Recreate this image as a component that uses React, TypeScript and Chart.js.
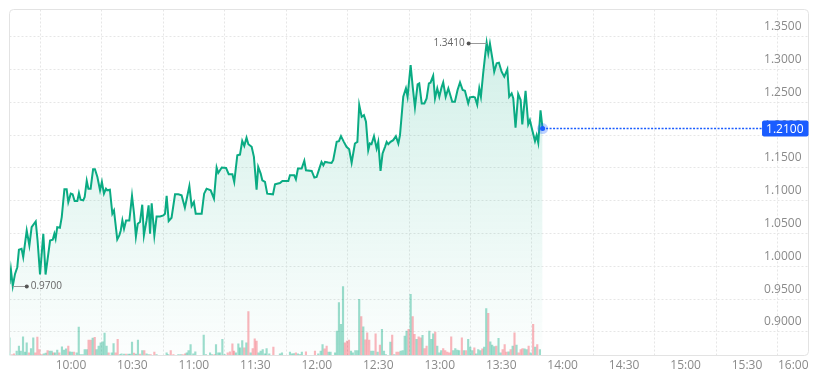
import React, { useEffect, useRef } from 'react';
import { Chart, registerables } from 'chart.js';

Chart.register(...registerables);

// minutes after 09:30
const priceTimes = [
  0, 0.7, 1.6, 2.7, 3.8, 4.6, 5.9, 6.7, 8.4, 9.7, 10.8, 12.8, 13.7, 14.9, 16.5, 17.6, 19.8, 21.1, 21.9, 22.5,
  23.3, 24.6, 25.5, 26.8, 27.9, 28.7, 29.9, 30.8, 31.8, 33.1, 33.9, 34.7, 36.0, 36.7, 37.7, 38.5, 39.6, 40.8, 41.7, 42.9,
  44.2, 45.1, 46.1, 47.1, 47.7, 49.0, 50.2, 51.0, 52.6, 53.6, 54.3, 55.1, 55.9, 56.9, 58.5, 59.8, 60.8, 61.7, 62.6, 63.7,
  64.8, 65.6, 66.9, 67.9, 68.6, 69.4, 70.7, 71.8, 73.5, 75.1, 75.9, 76.7, 77.7, 79.1, 80.8, 82.4, 84.0, 85.6, 87.8, 88.9,
  90.0, 90.9, 93.8, 95.0, 96.2, 98.2, 99.8, 101.1, 101.9, 103.6, 105.7, 107.0, 108.8, 109.7, 111.2, 112.5, 113.6, 114.6, 115.7, 116.6,
  118.2, 119.3, 120.6, 121.4, 122.6, 123.4, 124.7, 125.8, 128.6, 129.6, 132.0, 133.2, 136.1, 136.9, 139.0, 139.8, 140.8, 142.6, 143.9, 144.7,
  147.5, 148.8, 149.9, 151.5, 152.3, 153.2, 154.0, 155.6, 157.2, 158.0, 159.7, 160.8, 161.8, 163.2, 164.5, 165.8, 167.0, 168.6, 169.8, 170.7,
  171.9, 173.0, 174.0, 175.1, 175.9, 176.7, 177.9, 179.2, 180.0, 181.1, 182.1, 183.3, 184.1, 184.9, 186.0, 187.3, 188.6, 189.8, 190.6, 192.2,
  193.5, 194.3, 195.8, 196.8, 197.9, 199.2, 200.0, 201.2, 202.5, 203.6, 204.7, 205.5, 206.8, 207.7, 208.8, 209.8, 210.9, 211.7, 212.9, 214.2,
  215.0, 216.1, 217.4, 218.7, 219.9, 221.2, 222.3, 223.9, 224.7, 226.4, 227.2, 228.3, 229.3, 230.1, 231.2, 232.1, 232.9, 233.7, 234.5, 235.8,
  236.6, 237.8, 238.9, 240.2, 241.5, 243.0, 243.9, 245.1, 245.9, 247.0, 248.3, 249.5, 250.3, 251.9, 253.2, 254.0, 255.3, 256.5, 257.3, 258.1,
  259.2, 260.2,
];
const priceValues = [
  0.973, 0.995, 0.970, 0.9885, 0.9987, 1.0252, 1.0267, 1.014, 1.0547, 1.0318, 1.0598, 1.0685, 1.0394, 0.9875, 1.0496, 0.9875, 1.0394, 1.0405, 1.0496, 1.042,
  1.0598, 1.0588, 1.0751, 1.1175, 1.1175, 1.098, 1.1108, 1.1098, 1.0996, 1.0996, 1.1118, 1.1016, 1.1006, 1.1057, 1.1305, 1.1184, 1.1184, 1.148, 1.148, 1.1363,
  1.1159, 1.1287, 1.1108, 1.1184, 1.1159, 1.1169, 1.0802, 1.0853, 1.041, 1.0471, 1.0547, 1.07, 1.0573, 1.07, 1.07, 1.1075, 1.0802, 1.0455, 1.0649, 1.0675,
  1.094, 1.0471, 1.07, 1.093, 1.0496, 1.096, 1.0471, 1.0761, 1.0761, 1.0777, 1.0802, 1.1075, 1.069, 1.0741, 1.1098, 1.1098, 1.1083, 1.0894, 1.1225, 1.092,
  1.098, 1.0802, 1.0802, 1.1108, 1.1184, 1.1159, 1.1032, 1.1506, 1.1424, 1.1506, 1.15, 1.1404, 1.1404, 1.1287, 1.1694, 1.1704, 1.1913, 1.1837, 1.196, 1.1862,
  1.1822, 1.1669, 1.117, 1.1516, 1.1414, 1.1312, 1.1287, 1.1108, 1.1098, 1.1251, 1.1271, 1.1302, 1.1302, 1.1388, 1.1388, 1.1327, 1.149, 1.149, 1.161, 1.1465,
  1.1455, 1.1353, 1.1363, 1.1516, 1.1592, 1.1541, 1.1592, 1.1582, 1.1577, 1.1618, 1.1898, 1.1908, 1.1985, 1.1898, 1.1822, 1.1786, 1.158, 1.1873, 1.1898, 1.246,
  1.228, 1.2306, 1.2204, 1.1771, 1.1873, 1.1862, 1.1985, 1.1796, 1.1898, 1.1455, 1.172, 1.1822, 1.1898, 1.1862, 1.1898, 1.1924, 1.1985, 1.1873, 1.2, 1.2586,
  1.2715, 1.2586, 1.307, 1.2739, 1.2425, 1.2775, 1.279, 1.2484, 1.2484, 1.2561, 1.279, 1.28, 1.2905, 1.2561, 1.2714, 1.2586, 1.2729, 1.2805, 1.2586, 1.2714,
  1.2627, 1.251, 1.251, 1.2688, 1.2805, 1.2688, 1.2678, 1.2484, 1.2576, 1.2586, 1.2576, 1.2465, 1.2714, 1.2586, 1.2943, 1.3198, 1.341, 1.3249, 1.3395, 1.3147,
  1.2968, 1.3096, 1.3106, 1.2968, 1.2892, 1.3004, 1.2586, 1.2637, 1.2561, 1.2115, 1.2627, 1.2535, 1.2165, 1.2675, 1.2165, 1.2229, 1.206, 1.191, 1.2, 1.1885,
  1.238, 1.21,
];

const volumeTimes = [
  0, 1.1, 2.2, 3.5, 4.6, 5.5, 6.6, 7.6, 8.4, 9.5, 10.5, 11.6, 12.6, 13.6, 14.6, 15.7, 16.7, 17.7, 18.6, 19.6,
  20.6, 21.4, 22.2, 23.3, 24.3, 25.6, 26.6, 27.6, 28.7, 29.5, 30.5, 31.5, 32.8, 33.8, 34.7, 35.7, 36.7, 37.7, 38.6, 39.6,
  40.6, 41.6, 42.5, 43.5, 44.5, 45.5, 46.4, 47.4, 48.4, 49.9, 50.8, 51.8, 52.8, 53.9, 54.7, 55.9, 56.9, 58.0, 58.8, 59.8,
  60.8, 61.7, 62.7, 63.7, 64.8, 65.8, 66.9, 67.9, 68.9, 70.7, 71.8, 76.7, 77.5, 78.7, 80.0, 82.4, 83.5, 84.5, 85.7, 86.5,
  87.4, 88.4, 89.7, 90.7, 94.8, 95.9, 97.9, 98.8, 100.0, 100.8, 101.9, 102.7, 103.9, 105.0, 106.5, 107.6, 108.8, 109.6, 110.5, 111.7,
  112.5, 113.6, 114.6, 115.6, 116.6, 117.7, 118.7, 119.7, 120.6, 121.6, 122.6, 123.6, 124.7, 125.5, 126.8, 128.8, 132.0, 133.0, 136.9, 137.9,
  138.8, 139.8, 140.8, 141.8, 142.7, 144.7, 149.1, 150.7, 151.9, 152.8, 153.8, 154.8, 155.8, 156.7, 158.9, 159.8, 160.8, 161.8, 162.8, 163.7,
  164.7, 165.7, 166.7, 167.6, 168.8, 169.8, 170.7, 171.7, 172.7, 173.7, 174.6, 175.6, 176.6, 177.6, 178.7, 179.7, 180.8, 181.8, 182.8, 183.7,
  185.9, 186.8, 187.8, 188.9, 189.9, 190.9, 191.9, 192.9, 193.8, 194.8, 195.8, 196.8, 197.7, 198.7, 199.7, 200.7, 201.6, 202.6, 203.6, 204.9,
  205.9, 206.8, 207.8, 208.8, 209.8, 210.7, 211.7, 212.7, 213.7, 214.7, 215.6, 216.6, 217.6, 218.6, 219.5, 220.8, 221.8, 222.8, 223.9, 224.9,
  225.9, 226.9, 227.8, 228.8, 229.8, 230.8, 231.7, 232.7, 233.7, 234.7, 235.6, 236.6, 237.6, 238.7, 239.7, 240.7, 241.7, 242.6, 243.6, 244.6,
  245.6, 246.5, 247.5, 248.5, 249.5, 250.4, 251.4, 252.4, 253.4, 254.4, 255.6, 256.6, 257.6, 258.9,
];
const volumeValues = [
  177, 10, 17, 43, 93, 43, 187, 33, 127, 27, 70, 177, 27, 183, 60, 10, 17, 23, 50, 43,
  43, 27, 27, 53, 27, 87, 53, 67, 93, 37, 33, 33, 27, 283, 10, 10, 60, 60, 153, 153,
  173, 180, 60, 93, 127, 137, 223, 93, 27, 27, 120, 27, 160, 10, 17, 13, 13, 13, 13, 133,
  23, 13, 153, 13, 50, 50, 17, 10, 10, 33, 10, 27, 10, 50, 10, 10, 10, 10, 17, 27,
  50, 110, 17, 37, 203, 10, 27, 10, 10, 110, 27, 27, 160, 10, 27, 37, 117, 43, 27, 117,
  77, 150, 77, 127, 437, 27, 70, 167, 143, 27, 43, 60, 17, 70, 17, 83, 17, 27, 33, 17,
  20, 27, 17, 10, 33, 37, 43, 17, 43, 110, 67, 93, 33, 33, 27, 243, 527, 310, 687, 127,
  143, 153, 43, 27, 50, 50, 560, 387, 287, 157, 227, 153, 43, 43, 217, 33, 103, 260, 43, 10,
  133, 203, 10, 33, 33, 43, 50, 193, 243, 260, 610, 387, 210, 160, 187, 177, 200, 70, 93, 243,
  160, 217, 233, 93, 27, 50, 70, 50, 33, 27, 187, 50, 70, 53, 50, 177, 50, 50, 160, 83,
  50, 77, 17, 60, 50, 67, 83, 467, 420, 137, 103, 90, 93, 170, 27, 60, 110, 33, 37, 60,
  93, 227, 103, 27, 60, 70, 67, 60, 93, 27, 310, 83, 110, 60,
];
// 1 = price rose in that minute (green), 0 = fell (red)
const volumeUp = [
  1, 0, 0, 1, 1, 1, 1, 1, 1, 0, 1, 1, 0, 0, 0, 0, 1, 1, 0, 1,
  1, 0, 1, 1, 0, 1, 1, 1, 0, 1, 1, 0, 1, 1, 1, 1, 1, 1, 0, 0,
  1, 0, 1, 1, 1, 1, 1, 1, 0, 1, 1, 0, 0, 1, 1, 1, 0, 1, 1, 1,
  0, 1, 1, 0, 1, 0, 1, 1, 0, 0, 1, 1, 1, 0, 0, 1, 1, 0, 0, 1,
  1, 1, 1, 1, 1, 1, 1, 1, 0, 1, 1, 1, 1, 1, 0, 0, 0, 0, 1, 1,
  1, 1, 0, 1, 0, 1, 0, 0, 0, 1, 1, 1, 1, 1, 1, 0, 1, 1, 1, 1,
  1, 0, 1, 1, 1, 0, 0, 1, 1, 1, 0, 0, 1, 1, 1, 1, 1, 1, 1, 0,
  0, 0, 1, 1, 1, 1, 1, 0, 1, 0, 0, 0, 1, 1, 0, 1, 0, 1, 1, 1,
  1, 0, 1, 0, 0, 1, 1, 1, 1, 0, 1, 0, 0, 1, 0, 0, 1, 0, 0, 1,
  1, 1, 0, 1, 1, 1, 0, 0, 0, 0, 0, 1, 1, 1, 1, 0, 1, 0, 1, 1,
  1, 0, 1, 1, 1, 0, 1, 1, 0, 1, 1, 1, 0, 1, 1, 0, 0, 0, 1, 0,
  1, 0, 1, 0, 0, 0, 1, 1, 0, 1, 0, 1, 0, 1,
];

const sessionMinutes = 390; // 09:30 - 16:00
const timeStep = 30;
const priceMin = 0.86407;
const priceMax = 1.39159;
const priceStep = 0.05;
const volumeAxisMax = 3450;

const LINE = '#0aab83';
const VOL_UP = 'rgba(10,171,131,0.40)';
const VOL_DOWN = 'rgba(242,54,69,0.36)';
const GRID = '#e6e6e6';
const LABEL = '#8a8a8a';
const BLUE = '#1a5cff';
const FONT = 'Open Sans';

function fmtTime(m: number): string {
  const t = 570 + m;
  const h = Math.floor(t / 60);
  const mm = Math.round(t % 60);
  return `${h}:${String(mm).padStart(2, '0')}`;
}

const overlayPlugin = {
  id: 'overlay',
  afterDraw(chart: any) {
    const { ctx, chartArea: a, scales } = chart;
    const xs = scales.x;
    const ys = scales.y;
    ctx.save();
    // frame
    ctx.beginPath();
    ctx.roundRect(a.left, a.top, a.right - a.left, a.bottom - a.top, 4);
    ctx.strokeStyle = '#e3e3e3';
    ctx.lineWidth = 1;
    ctx.setLineDash([]);
    ctx.stroke();

    // max / min markers
    let iMax = 0;
    let iMin = 0;
    priceValues.forEach((v, i) => {
      if (v > priceValues[iMax]) iMax = i;
      if (v < priceValues[iMin]) iMin = i;
    });
    const marker = (i: number, dir: number, len: number) => {
      const px = xs.getPixelForValue(priceTimes[i]);
      const py = Math.round(ys.getPixelForValue(priceValues[i])) + 0.5;
      const ex = px + dir * len;
      ctx.strokeStyle = '#9a9a9a';
      ctx.lineWidth = 1;
      ctx.beginPath();
      ctx.moveTo(px, py);
      ctx.lineTo(ex, py);
      ctx.stroke();
      ctx.fillStyle = '#555';
      ctx.beginPath();
      ctx.arc(ex, py, 2, 0, Math.PI * 2);
      ctx.fill();
      ctx.font = `10px "${FONT}"`;
      ctx.fillStyle = '#666';
      ctx.textBaseline = 'middle';
      ctx.textAlign = dir > 0 ? 'left' : 'right';
      ctx.fillText(priceValues[i].toFixed(4), ex + dir * 4, py);
    };
    marker(iMax, -1, 18);
    marker(iMin, 1, 14);

    // last price line
    const li = priceValues.length - 1;
    const lx = xs.getPixelForValue(priceTimes[li]);
    const ly = ys.getPixelForValue(priceValues[li]);
    ctx.strokeStyle = BLUE;
    ctx.lineWidth = 1.5;
    ctx.setLineDash([2, 1.5]);
    ctx.beginPath();
    ctx.moveTo(lx, ly);
    ctx.lineTo(a.right, ly);
    ctx.stroke();
    ctx.setLineDash([]);
    ctx.fillStyle = 'rgba(26,92,255,0.28)';
    ctx.beginPath();
    ctx.arc(lx, ly, 5.5, 0, Math.PI * 2);
    ctx.fill();
    ctx.fillStyle = BLUE;
    ctx.beginPath();
    ctx.arc(lx, ly, 2.5, 0, Math.PI * 2);
    ctx.fill();

    // last price label
    const txt = priceValues[li].toFixed(4);
    ctx.font = `12px "${FONT}"`;
    const tw = ctx.measureText(txt).width;
    const bw = tw + 9;
    const bh = 16;
    ctx.fillStyle = BLUE;
    ctx.beginPath();
    ctx.roundRect(a.right - bw, ly - bh / 2, bw, bh, 2);
    ctx.fill();
    ctx.fillStyle = '#ffffff';
    ctx.textAlign = 'right';
    ctx.textBaseline = 'middle';
    ctx.fillText(txt, a.right - 5, ly + 0.5);
    ctx.restore();
  },
};

export default function App() {
  const ref = useRef<HTMLCanvasElement | null>(null);
  useEffect(() => {
    if (!ref.current) return;
    Chart.defaults.font.family = FONT;
    const chart = new Chart(ref.current, {
      type: 'bar',
      data: {
        datasets: [
          {
            type: 'bar',
            label: 'Volume',
            data: volumeTimes.map((t, i) => ({ x: t, y: volumeValues[i] })),
            yAxisID: 'yv',
            backgroundColor: volumeUp.map((u) => (u ? VOL_UP : VOL_DOWN)),
            borderWidth: 0,
            barThickness: 1.5,
            order: 0,
          } as any,
          {
            type: 'line',
            label: 'Price',
            data: priceTimes.map((t, i) => ({ x: t, y: priceValues[i] })),
            yAxisID: 'y',
            borderColor: LINE,
            borderWidth: 2,
            pointRadius: 0,
            tension: 0,
            fill: 'start',
            backgroundColor: (c: any) => {
              const { ctx, chartArea } = c.chart;
              if (!chartArea) return 'rgba(10,171,131,0.1)';
              const g = ctx.createLinearGradient(0, chartArea.top, 0, chartArea.bottom);
              g.addColorStop(0, 'rgba(10,171,131,0.20)');
              g.addColorStop(1, 'rgba(10,171,131,0.01)');
              return g;
            },
            order: 1,
          } as any,
        ],
      },
      options: {
        animation: false,
        responsive: true,
        maintainAspectRatio: false,
        events: [],
        layout: { padding: { left: 1.5, top: 1.5, right: 7.5, bottom: 1.1 } },
        plugins: { legend: { display: false }, tooltip: { enabled: false } },
        scales: {
          x: {
            type: 'linear',
            min: 0,
            max: sessionMinutes,
            offset: false,
            grid: { color: GRID, drawTicks: false, lineWidth: 1 },
            border: { display: false, dash: [2, 2] },
            ticks: {
              stepSize: timeStep,
              maxTicksLimit: 30,
              autoSkip: false,
              maxRotation: 0,
              align: 'inner',
              padding: 3,
              color: LABEL,
              font: { size: 12, family: FONT },
              callback: (v: any) => (Number(v) === 0 ? '' : fmtTime(Number(v))),
            },
            afterFit: (s: any) => {
              s.paddingLeft = 0;
              s.paddingRight = 0;
            },
          },
          y: {
            type: 'linear',
            position: 'right',
            min: priceMin,
            max: priceMax,
            grid: { color: GRID, drawTicks: false, lineWidth: 1 },
            border: { display: false, dash: [2, 2] },
            ticks: {
              stepSize: priceStep,
              includeBounds: false,
              maxTicksLimit: 30,
              mirror: true,
              padding: -7,
              labelOffset: -10,
              color: LABEL,
              font: { size: 12, family: FONT },
              callback: (v: any) => Number(v).toFixed(4),
            },
            afterFit: (s: any) => {
              s.width = 0;
              s.paddingTop = 0;
              s.paddingBottom = 0;
            },
          },
          yv: {
            type: 'linear',
            display: false,
            min: 0,
            max: volumeAxisMax,
          },
        },
      } as any,
      plugins: [overlayPlugin],
    });
    return () => chart.destroy();
  }, []);
  return (
    <div style={{ width: 808, height: 369, position: 'relative' }}>
      <canvas ref={ref} />
    </div>
  );
}
